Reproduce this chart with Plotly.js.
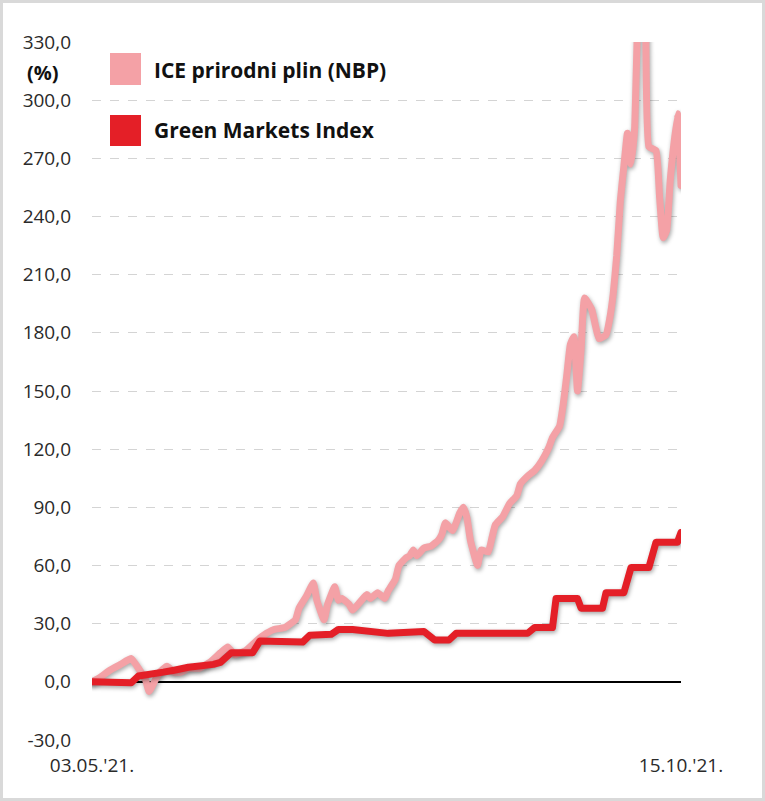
<!DOCTYPE html>
<html>
<head>
<meta charset="utf-8">
<script src="https://cdn.plot.ly/plotly-3.0.1.min.js"></script>
<style>
  html, body { margin: 0; padding: 0; background: #ffffff; }
  #wrap { position: relative; width: 765px; height: 801px; overflow: hidden; }
  #chart { position: absolute; left: 0; top: 0; width: 765px; height: 801px; }
  #frame { position: absolute; left: 0; top: 0; width: 765px; height: 801px; box-sizing: border-box;
           border: 3px solid #d9d9d9; pointer-events: none; }
  .scatterlayer .trace path.js-line { filter: drop-shadow(1px 2px 2px rgba(0,0,0,0.35));
           stroke-linejoin: round !important; stroke-linecap: round !important; }
</style>
</head>
<body>
<div id="wrap"><div id="chart"></div><div id="frame"></div></div>
<script>
// ---- data ----
const gasDates = [
  '2021-05-03','2021-05-05','2021-05-08','2021-05-11','2021-05-14','2021-05-16','2021-05-18','2021-05-19',
  '2021-05-21','2021-05-22','2021-05-24','2021-05-26','2021-05-28','2021-05-30','2021-06-02','2021-06-05',
  '2021-06-08','2021-06-10','2021-06-12','2021-06-15','2021-06-18','2021-06-20','2021-06-23','2021-06-26',
  '2021-06-29','2021-06-30','2021-07-02','2021-07-04','2021-07-05','2021-07-07','2021-07-08','2021-07-10',
  '2021-07-11','2021-07-12','2021-07-14','2021-07-15','2021-07-17','2021-07-19','2021-07-20','2021-07-22',
  '2021-07-24','2021-07-25','2021-07-27','2021-07-28','2021-07-30','2021-07-31','2021-08-01','2021-08-02',
  '2021-08-04','2021-08-06','2021-08-08','2021-08-09','2021-08-10','2021-08-12','2021-08-14','2021-08-15',
  '2021-08-16','2021-08-17','2021-08-19','2021-08-20','2021-08-22','2021-08-23','2021-08-24','2021-08-26',
  '2021-08-28','2021-08-30','2021-08-31','2021-09-02','2021-09-04','2021-09-06','2021-09-08','2021-09-09',
  '2021-09-11','2021-09-12','2021-09-13','2021-09-14','2021-09-15','2021-09-16','2021-09-17','2021-09-18',
  '2021-09-20','2021-09-21','2021-09-22','2021-09-24','2021-09-25','2021-09-26','2021-09-27','2021-09-28',
  '2021-09-29','2021-09-30','2021-10-01','2021-10-02','2021-10-03','2021-10-04','2021-10-05','2021-10-06',
  '2021-10-08','2021-10-09','2021-10-10','2021-10-11','2021-10-12','2021-10-14','2021-10-15'
];
const gasValues = [
  0, 2, 6, 9, 12, 7, 1, -5,
  2, 5, 8, 5, 5, 7, 7, 10,
  15, 18, 14, 16, 21, 24, 27, 28,
  32, 38, 44, 51, 42, 32, 40, 49,
  42, 43, 40, 37, 41, 45, 43, 46,
  43, 47, 53, 60, 64, 65, 68, 65,
  69, 70, 73, 76, 82, 78, 87, 90,
  85, 73, 60, 68, 67, 74, 81, 85,
  92, 96, 102, 106, 109, 114, 121, 126,
  132, 143, 158, 174, 178, 150, 171, 198,
  192, 184, 177, 179, 187, 200, 220, 248,
  266, 283, 267, 285, 345, 355, 345, 276,
  274, 250, 229, 233, 259, 293, 256
];

const gmiDates = [
  '2021-05-03','2021-05-14','2021-05-16','2021-05-21','2021-05-23','2021-05-26','2021-05-30','2021-06-06',
  '2021-06-08','2021-06-11','2021-06-17','2021-06-19','2021-07-01','2021-07-03','2021-07-09','2021-07-11',
  '2021-07-15','2021-07-25','2021-08-04','2021-08-07','2021-08-11','2021-08-13','2021-09-02','2021-09-04',
  '2021-09-09','2021-09-10','2021-09-16','2021-09-17','2021-09-23','2021-09-24','2021-09-29','2021-10-01',
  '2021-10-06','2021-10-08','2021-10-14','2021-10-15'
];
const gmiValues = [
  0, -0.5, 3, 4, 5, 6, 7.5, 9,
  10, 15, 15, 21, 20.5, 24, 24.5, 27,
  27, 25, 26, 21.6, 21.6, 25, 25, 28,
  28, 43, 43, 38, 38, 46, 46, 59,
  59, 72, 72, 77
];

const seriesNames = ['ICE prirodni plin (NBP)', 'Green Markets Index'];
const seriesColors = ['#F4A1A6', '#E41F27'];
const yTicks = [-30, 0, 30, 60, 90, 120, 150, 180, 210, 240, 270, 300, 330];
const xTickVals = ['2021-05-03', '2021-10-15'];
const xTickText = ["03.05.'21.", "15.10.'21."];
const yUnit = '(%)';

// ---- chart ----
const FONT = '"Open Sans", "Noto Sans", sans-serif';
const fmt = v => v.toFixed(1).replace('.', ',');

const traces = [
  { x: gasDates, y: gasValues, type: 'scatter', mode: 'lines', name: seriesNames[0],
    line: { color: seriesColors[0], width: 7, shape: 'spline', smoothing: 0.4 }, hoverinfo: 'x+y' },
  { x: gmiDates, y: gmiValues, type: 'scatter', mode: 'lines', name: seriesNames[1],
    line: { color: seriesColors[1], width: 7, shape: 'linear' }, hoverinfo: 'x+y' }
];

// legend drawn with shapes + annotations (paper coordinates)
const L = 92, R = 681, T = 42, B = 740;
const px = v => (v - L) / (R - L);
const py = v => (B - v) / (B - T);

const shapes = [
  { type: 'rect', xref: 'paper', yref: 'paper', x0: px(110), x1: px(141), y0: py(85), y1: py(53),
    fillcolor: seriesColors[0], line: { width: 0 } },
  { type: 'rect', xref: 'paper', yref: 'paper', x0: px(110), x1: px(141), y0: py(146), y1: py(115),
    fillcolor: seriesColors[1], line: { width: 0 } }
];
const annotations = [
  { xref: 'paper', yref: 'paper', x: px(152), y: py(70), xanchor: 'left', yanchor: 'middle', showarrow: false,
    text: '<b>' + seriesNames[0] + '</b>', font: { family: FONT, size: 21, color: '#111111' } },
  { xref: 'paper', yref: 'paper', x: px(152), y: py(130), xanchor: 'left', yanchor: 'middle', showarrow: false,
    text: '<b>' + seriesNames[1] + '</b>', font: { family: FONT, size: 21, color: '#111111' } },
  { xref: 'paper', yref: 'paper', x: px(43), y: py(72), xanchor: 'center', yanchor: 'middle', showarrow: false,
    text: '<b>' + yUnit + '</b>', font: { family: FONT, size: 20, color: '#111111' } }
];

const layout = {
  width: 765, height: 801,
  margin: { l: L, r: 765 - R, t: T, b: 801 - B, pad: 0 },
  paper_bgcolor: '#ffffff', plot_bgcolor: '#ffffff',
  showlegend: false,
  font: { family: FONT, size: 19, color: '#333333' },
  xaxis: {
    type: 'date', range: [xTickVals[0], xTickVals[1]],
    tickmode: 'array', tickvals: xTickVals, ticktext: xTickText,
    showgrid: false, zeroline: false, showline: false, ticks: '',
    ticklabelstandoff: 12,
    tickfont: { family: FONT, size: 19, color: '#2a2a2a' }
  },
  yaxis: {
    range: [-30, 330], tickmode: 'array', tickvals: yTicks, ticktext: yTicks.map(fmt),
    showgrid: true, gridcolor: '#d4d4d4', gridwidth: 1, griddash: 'dash',
    zeroline: true, zerolinecolor: '#000000', zerolinewidth: 2,
    showline: false, ticks: '', ticklabelstandoff: 20,
    tickfont: { family: FONT, size: 19, color: '#2a2a2a' }
  },
  shapes: shapes,
  annotations: annotations
};

Plotly.newPlot('chart', traces, layout, { displayModeBar: false, staticPlot: true });
</script>
</body>
</html>
